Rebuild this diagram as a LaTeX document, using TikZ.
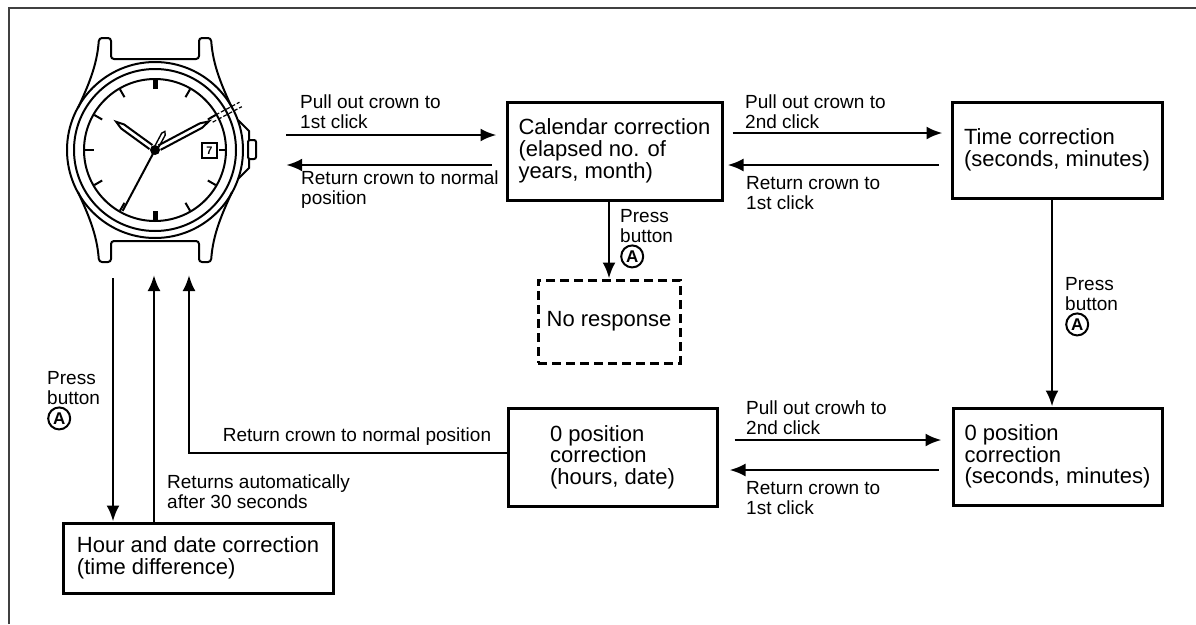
\documentclass[tikz,border=0pt]{standalone}
\usepackage{fontspec}
\setmainfont{Liberation Sans}
\usetikzlibrary{arrows.meta}

\tikzset{
  box/.style={draw, line width=3pt, align=left, font=\fontsize{22}{21.7}\selectfont},
  lbl/.style={align=left, inner sep=0pt, anchor=north west, font=\fontsize{19}{20}\selectfont},
  arr/.style={line width=2.6pt, -{Latex[length=16pt,width=13pt]}},
}
\newcommand{\btnA}{\tikz[baseline=(b.base)]\node[circle, draw, line width=2pt, inner sep=0pt, minimum size=22pt, font=\fontsize{17}{17}\bfseries\selectfont] (b) {A};}

\begin{document}
\begin{tikzpicture}[x=1pt,y=-1pt]
    \useasboundingbox (0,0) rectangle (1196,624);
    %frame
    \draw[line width=1.5pt, black!75] (9,624) -- (9,8) -- (1196,8);

    %watch
    \begin{scope}[shift={(155,150)}, line width=2pt]
        \draw (0,0) circle (88pt) (0,0) circle (81pt) (0,0) circle (71pt);
        \foreach \s in {1,-1}
            \draw[rounded corners=3pt, yscale=\s] (-77,-42) .. controls (-67,-64) and (-58,-84) .. (-56,-112) -- (-44,-112) -- (-44,-91) -- (44,-91) -- (44,-112) -- (56,-112) .. controls (58,-84) and (67,-64) .. (77,-42);
        \foreach \a in {30,60,120,150,210,240,300,330}
            \draw (\a:61) -- (\a:70);
        \draw[line width=5pt] (0,-70) -- (0,-61) (0,61) -- (0,70);
        \draw (-70,0) -- (-61,0) (64,0) -- (71,0);
        % crown
        \draw (83,-30) -- (94,-19) -- (94,-10) (94,9) -- (94,18) -- (83,29);
        \draw[rounded corners=2pt] (93,-10) rectangle (101,9);
        % date
        \draw[line width=1.4pt] (47,-7) rectangle (62,8);
        \node[inner sep=0pt, font=\fontsize{11}{11}\bfseries\selectfont] at (54.5,0.5) {7};
        % hands
        \begin{scope}[rotate=144]
            \draw (5,-2.5) -- (40,-2.5) -- (48,0) -- (40,2.5) -- (5,2.5);
        \end{scope}
        \begin{scope}[rotate=28]
            \draw (5,-2.5) -- (52,-2.5) -- (61,0) -- (52,2.5) -- (5,2.5);
            \draw[line width=1.2pt, dash pattern=on 4pt off 2pt] (64,-2.5) -- (97,-2.5) (64,2.5) -- (97,2.5);
        \end{scope}
        \begin{scope}[rotate=242]
            \draw[line width=2pt] (0,0) -- (69,0);
            \draw[line width=1.4pt] (-4,-2) -- (-18,-2) -- (-21,0) -- (-18,2) -- (-4,2);
        \end{scope}
        \fill (0,0) circle (5pt);
    \end{scope}
    \node[inner sep=0pt, minimum width=262pt, minimum height=250pt] (watch) at (155,150) {};

    %blocks
    \node[box, minimum width=215pt, minimum height=98pt] (cal) at (614.5,151) {Calendar correction\\(elapsed no. of\\years, month)};
    \node[box, minimum width=210pt, minimum height=96pt] (time) at (1057,150) {Time correction\\(seconds, minutes)};
    \node[box, dashed, dash pattern=on 9pt off 5pt, minimum width=142pt, minimum height=83pt] (nr) at (609,321.5) {No response};
    \node[box, minimum width=209pt, minimum height=98pt] (zh) at (612.5,457) {0 position\\correction\\(hours, date)};
    \node[box, minimum width=209pt, minimum height=97pt] (zs) at (1057.5,456.5) {0 position\\correction\\(seconds, minutes)};
    \node[box, minimum width=270pt, minimum height=70pt] (hour) at (198,558) {Hour and date correction\\(time difference)};

    %arrows
    \coordinate (c1) at ([yshift=16pt]cal.west);
    \coordinate (c2) at ([yshift=-14pt]cal.west);
    \coordinate (c3) at ([yshift=17pt]time.west);
    \coordinate (c4) at ([yshift=-15pt]time.west);
    \coordinate (c5) at ([yshift=16.5pt]zs.west);
    \coordinate (c6) at ([yshift=-13.5pt]zs.west);
    \coordinate (t1) at ([xshift=-5pt]time.south);
    \coordinate (w1) at (113,278);
    \coordinate (w2) at (154,275);
    \coordinate (w3) at (189,275);
    \draw[arr, shorten >=9pt] (watch.east |- c1) -- (c1);
    \draw[arr, shorten <=14pt] (c2) -- (watch.east |- c2);
    \draw[arr, shorten <=9pt, shorten >=8pt] (cal.east |- c3) -- (c3);
    \draw[arr, shorten <=12pt, shorten >=4pt] (c4) -- (cal.east |- c4);
    \draw[arr] (cal.south -| nr.north) -- (nr.north);
    \draw[arr] (t1) -- (t1 |- zs.north);
    \draw[arr, shorten <=16pt, shorten >=10pt] (zh.east |- c5) -- (c5);
    \draw[arr, shorten <=13pt, shorten >=11pt] (c6) -- (zh.east |- c6);
    \draw[arr] (w1) -- (w1 |- hour.north);
    \draw[arr] (w2 |- hour.north) -- (w2);
    \draw[arr] ([yshift=4pt]zh.west) -| (w3);

    %labels
    \node[lbl] (l1) at (300,95) {Pull out crown to\\1st click};
    \node[lbl] (l2) at (301,171) {Return crown to normal\\position};
    \node[lbl] (l3) at (745,95) {Pull out crown to\\2nd click};
    \node[lbl] (l4) at (746,176) {Return crown to\\1st click};
    \node[lbl] (l5) at (620,209) {Press\\button\\\btnA};
    \node[lbl] (l6) at (1065,277) {Press\\button\\\btnA};
    \node[lbl] (l7) at (47,371) {Press\\button\\\btnA};
    \node[lbl, anchor=base] (l8) at (357,441) {Return crown to normal position};
    \node[lbl] (l9) at (167,475) {Returns automatically\\after 30 seconds};
    \node[lbl] (l10) at (746,401) {Pull out crowh to\\2nd click};
    \node[lbl] (l11) at (746,481) {Return crown to\\1st click};
\end{tikzpicture}
\end{document}
